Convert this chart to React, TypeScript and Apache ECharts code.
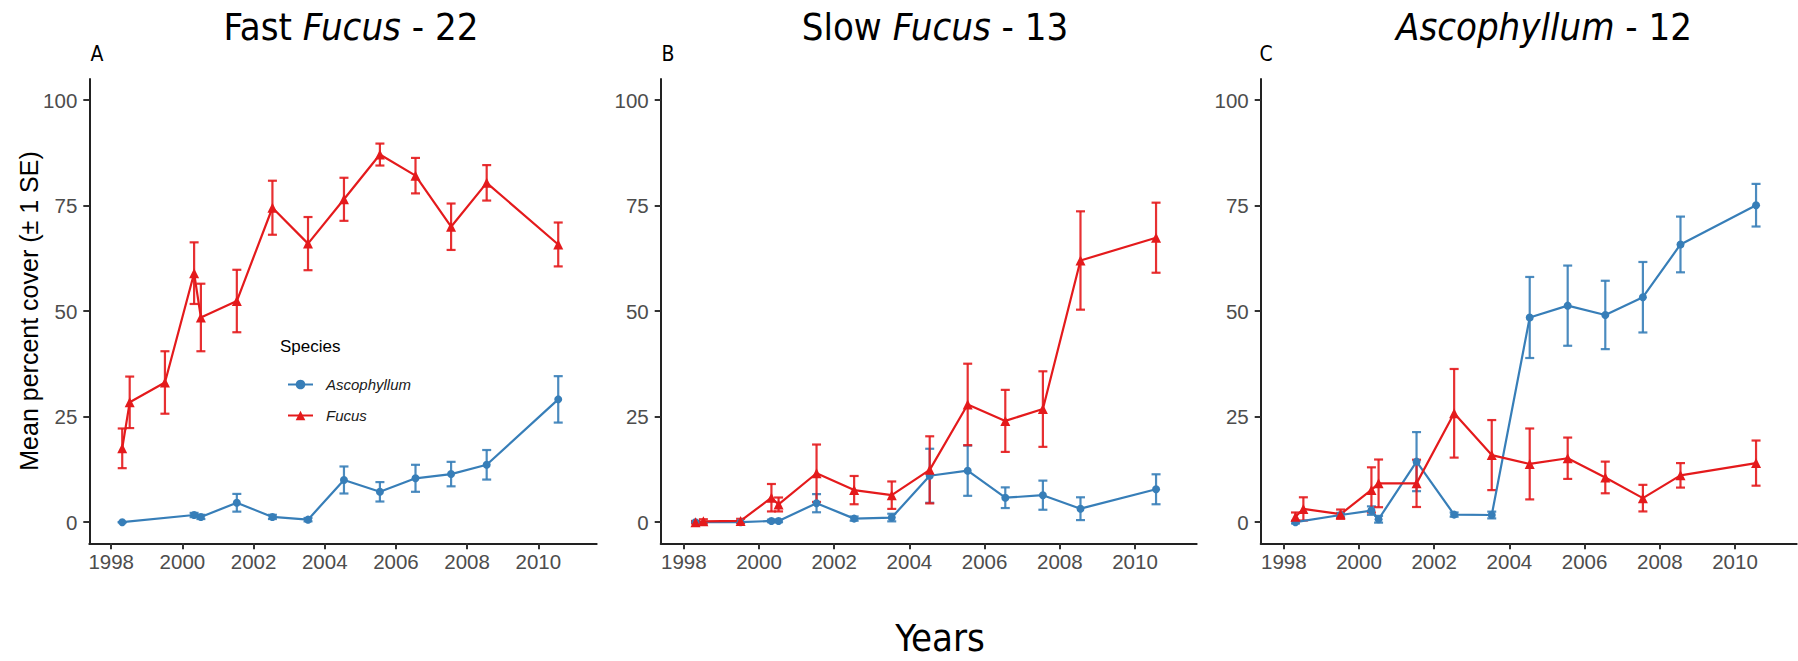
import React, { useEffect, useRef } from "react";
import * as echarts from "echarts";

// Survey dates (decimal years) shared by the three plot groups
const sampleYears = [
  1998.31, 1998.52, 1999.51, 2000.33, 2000.52, 2001.53, 2002.53, 2003.53,
  2004.54, 2005.55, 2006.55, 2007.55, 2008.55, 2010.56,
];

// A: Fast Fucus plots (n = 22)
const fastAscoMean = [0.0, null, null, 1.7, 1.25, 4.6, 1.25, 0.6, 10.0, 7.2, 10.4, 11.4, 13.6, 29.1];
const fastAscoSE = [0, null, null, 0.5, 0.5, 2.1, 0.5, 0.4, 3.2, 2.3, 3.2, 2.9, 3.5, 5.5];
const fastFucusMean = [17.5, 28.4, 33.1, 59.0, 48.5, 52.4, 74.5, 66.0, 76.5, 87.1, 82.1, 70.0, 80.4, 65.8];
const fastFucusSE = [4.7, 6.1, 7.4, 7.3, 8.0, 7.4, 6.4, 6.3, 5.1, 2.6, 4.2, 5.5, 4.2, 5.2];

// B: Slow Fucus plots (n = 13)
const slowAscoMean = [0.0, null, 0.0, 0.3, 0.3, 4.5, 0.85, 1.1, 11.0, 12.2, 5.8, 6.4, 3.2, 7.8];
const slowAscoSE = [0, null, 0, 0.3, 0.3, 2.15, 0.5, 0.9, 6.4, 5.95, 2.45, 3.45, 2.7, 3.55];
const slowFucusMean = [0.0, 0.2, 0.3, 5.8, 4.2, 11.6, 7.6, 6.4, 12.4, 27.9, 24.0, 26.8, 62.0, 67.4];
const slowFucusSE = [0.3, 0.5, 0.5, 3.25, 1.65, 6.8, 3.35, 3.25, 7.95, 9.65, 7.35, 8.95, 11.65, 8.3];

// C: Ascophyllum plots (n = 12)
const ascoAscoMean = [0.0, null, 1.7, 2.75, 0.7, 14.35, 1.8, 1.7, 48.5, 51.3, 49.1, 53.3, 65.8, 75.1];
const ascoAscoSE = [0.3, null, 0.5, 1.0, 0.8, 7.0, 0.5, 0.8, 9.6, 9.5, 8.1, 8.35, 6.6, 5.05];
const ascoFucusMean = [1.3, 3.15, 1.9, 7.65, 9.2, 9.2, 25.8, 15.9, 13.8, 15.15, 10.6, 5.7, 11.1, 14.0];
const ascoFucusSE = [1.0, 2.75, 1.1, 5.35, 5.65, 5.6, 10.5, 8.3, 8.4, 4.9, 3.75, 3.15, 2.9, 5.35];

const yearTicks = [1998, 2000, 2002, 2004, 2006, 2008, 2010];
const coverTicks = [0, 25, 50, 75, 100];

const BLUE = "#377EB8";
const RED = "#E41A1C";
const NARROW = "'Liberation Sans Narrow', 'DejaVu Sans Condensed', 'Liberation Sans', sans-serif";
const SANS = "'Liberation Sans', Arial, Helvetica, sans-serif";

type Panel = {
  titleRich: string;
  titleX: number;
  letter: string;
  letterX: number;
  left: number;
  width: number;
  ascoMean: (number | null)[];
  ascoSE: (number | null)[];
  fucusMean: (number | null)[];
  fucusSE: (number | null)[];
};

const panels: Panel[] = [
  {
    titleRich: "{n|Fast }{i|Fucus}{n| - 22}",
    titleX: 351,
    letter: "A",
    letterX: 97,
    left: 89.3,
    width: 507.4,
    ascoMean: fastAscoMean,
    ascoSE: fastAscoSE,
    fucusMean: fastFucusMean,
    fucusSE: fastFucusSE,
  },
  {
    titleRich: "{n|Slow }{i|Fucus}{n| - 13}",
    titleX: 935,
    letter: "B",
    letterX: 668,
    left: 660.7,
    width: 536,
    ascoMean: slowAscoMean,
    ascoSE: slowAscoSE,
    fucusMean: slowFucusMean,
    fucusSE: slowFucusSE,
  },
  {
    titleRich: "{i|Ascophyllum}{n| - 12}",
    titleX: 1544,
    letter: "C",
    letterX: 1266,
    left: 1260.7,
    width: 536,
    ascoMean: ascoAscoMean,
    ascoSE: ascoAscoSE,
    fucusMean: ascoFucusMean,
    fucusSE: ascoFucusSE,
  },
];

const points = (means: (number | null)[]) =>
  sampleYears
    .map((x, i) => (means[i] == null ? null : [x, means[i] as number]))
    .filter((p) => p !== null);

const bars = (means: (number | null)[], se: (number | null)[]) =>
  sampleYears
    .map((x, i) =>
      means[i] == null ? null : [x, (means[i] as number) - (se[i] as number), (means[i] as number) + (se[i] as number)]
    )
    .filter((p) => p !== null);

const errorBarSeries = (name: string, data: any[], color: string, idx: number) => ({
  type: "custom",
  name: name + " SE",
  xAxisIndex: idx,
  yAxisIndex: idx,
  clip: false,
  silent: true,
  encode: { x: 0, y: [1, 2] },
  data,
  z: 2,
  renderItem: (params: any, api: any) => {
    const x = api.value(0);
    const lo = api.coord([x, api.value(1)]);
    const hi = api.coord([x, api.value(2)]);
    const half = 4.5;
    const style = { stroke: color, lineWidth: 2.2, opacity: 0.9 };
    return {
      type: "group",
      children: [
        { type: "line", shape: { x1: lo[0], y1: lo[1], x2: hi[0], y2: hi[1] }, style },
        { type: "line", shape: { x1: hi[0] - half, y1: hi[1], x2: hi[0] + half, y2: hi[1] }, style },
        { type: "line", shape: { x1: lo[0] - half, y1: lo[1], x2: lo[0] + half, y2: lo[1] }, style },
      ],
    };
  },
});

const lineSeries = (name: string, data: any[], color: string, symbol: string, size: number, idx: number) => ({
  type: "line",
  name,
  xAxisIndex: idx,
  yAxisIndex: idx,
  data,
  symbol,
  symbolSize: size,
  showAllSymbol: true,
  connectNulls: true,
  clip: false,
  z: 3,
  lineStyle: { color, width: 2.2 },
  itemStyle: { color },
});

export default function App() {
  const ref = useRef<HTMLDivElement>(null);

  useEffect(() => {
    if (!ref.current) return;
    const chart = echarts.init(ref.current, null, { renderer: "svg" });

    const grids = panels.map((p) => ({
      left: p.left,
      top: 79,
      width: p.width,
      height: 464.3,
      containLabel: false,
      outerBoundsMode: "none",
    }));

    const xAxes = panels.map((_, i) => ({
      type: "value",
      gridIndex: i,
      min: 1997.385,
      max: 2011.641,
      axisLine: { show: true, onZero: false, lineStyle: { color: "#222", width: 2 } },
      axisTick: { show: true, length: 6, customValues: yearTicks, lineStyle: { color: "#333", width: 2 } },
      axisLabel: {
        customValues: yearTicks,
        formatter: (v: number) => String(Math.round(v)),
        fontSize: 20.5,
        color: "#4d4d4d",
        margin: 8,
        fontFamily: SANS,
      },
      splitLine: { show: false },
    }));

    const yAxes = panels.map((_, i) => ({
      type: "value",
      gridIndex: i,
      min: -5,
      max: 105,
      axisLine: { show: true, onZero: false, lineStyle: { color: "#222", width: 2 } },
      axisTick: { show: true, length: 6, customValues: coverTicks, lineStyle: { color: "#333", width: 2 } },
      axisLabel: {
        customValues: coverTicks,
        formatter: (v: number) => String(Math.round(v)),
        fontSize: 20.5,
        color: "#4d4d4d",
        margin: 12,
        fontFamily: SANS,
      },
      splitLine: { show: false },
    }));

    const series: any[] = [];
    panels.forEach((p, i) => {
      series.push(errorBarSeries("Ascophyllum", bars(p.ascoMean, p.ascoSE), BLUE, i));
      series.push(errorBarSeries("Fucus", bars(p.fucusMean, p.fucusSE), RED, i));
      series.push(lineSeries("Ascophyllum", points(p.ascoMean), BLUE, "circle", 8, i));
      series.push(lineSeries("Fucus", points(p.fucusMean), RED, "triangle", 10, i));
    });

    const graphics: any[] = [];
    panels.forEach((p) => {
      graphics.push({
        type: "text",
        x: p.titleX,
        y: 27,
        style: {
          text: p.titleRich,
          align: "center",
          verticalAlign: "middle",
          rich: {
            n: { fontSize: 38, fontFamily: NARROW, fill: "#000" },
            i: { fontSize: 38, fontFamily: NARROW, fontStyle: "italic", fill: "#000" },
          },
        },
      });
      graphics.push({
        type: "text",
        x: p.letterX,
        y: 54,
        style: {
          text: p.letter,
          fontSize: 21,
          fontFamily: NARROW,
          fill: "#000",
          align: "center",
          verticalAlign: "middle",
        },
      });
    });
    graphics.push({
      type: "text",
      x: 940,
      y: 638,
      style: { text: "Years", fontSize: 38, fontFamily: NARROW, fill: "#000", align: "center", verticalAlign: "middle" },
    });
    graphics.push({
      type: "text",
      x: 29,
      y: 311,
      rotation: Math.PI / 2,
      style: {
        text: "Mean percent cover (± 1 SE)",
        fontSize: 25,
        fontFamily: SANS,
        fill: "#000",
        align: "center",
        verticalAlign: "middle",
      },
    });
    graphics.push({
      type: "text",
      x: 280,
      y: 346,
      style: { text: "Species", fontSize: 17, fontFamily: SANS, fill: "#000", align: "left", verticalAlign: "middle" },
    });

    chart.setOption({
      animation: false,
      backgroundColor: "#fff",
      grid: grids,
      xAxis: xAxes,
      yAxis: yAxes,
      legend: {
        data: ["Ascophyllum", "Fucus"],
        orient: "vertical",
        left: 282,
        top: 372,
        itemWidth: 25,
        itemHeight: 12,
        itemGap: 16,
        selectedMode: false,
        textStyle: {
          fontStyle: "italic",
          fontSize: 15,
          color: "#1a1a1a",
          fontFamily: SANS,
          padding: [0, 0, 0, 8],
        },
      },
      series,
      graphic: graphics,
    });

    return () => chart.dispose();
  }, []);

  return (
    <div
      ref={ref}
      style={{ position: "fixed", left: 0, top: 0, width: 1798, height: 661, background: "#fff" }}
    />
  );
}
